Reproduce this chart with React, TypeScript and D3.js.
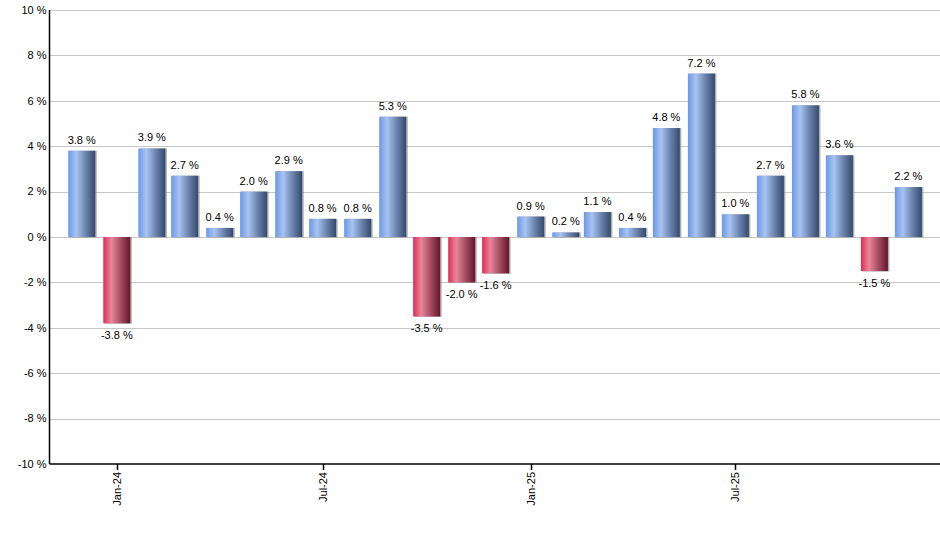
import { useEffect, useRef } from "react";
import * as d3 from "d3";

// monthly returns, Dec-23 .. Dec-25
const months = [
  "2023-12", "2024-01", "2024-02", "2024-03", "2024-04", "2024-05", "2024-06",
  "2024-07", "2024-08", "2024-09", "2024-10", "2024-11", "2024-12",
  "2025-01", "2025-02", "2025-03", "2025-04", "2025-05", "2025-06",
  "2025-07", "2025-08", "2025-09", "2025-10", "2025-11", "2025-12",
];
const returns = [
  3.8, -3.8, 3.9, 2.7, 0.4, 2.0, 2.9, 0.8, 0.8, 5.3, -3.5, -2.0, -1.6,
  0.9, 0.2, 1.1, 0.4, 4.8, 7.2, 1.0, 2.7, 5.8, 3.6, -1.5, 2.2,
];
const xTickMonths = ["2024-01", "2024-07", "2025-01", "2025-07"];
const yTicks = [-10, -8, -6, -4, -2, 0, 2, 4, 6, 8, 10];

const parseMonth = d3.utcParse("%Y-%m");
const FONT = "'Liberation Sans', Arial, sans-serif";

export default function App() {
  const svgRef = useRef<SVGSVGElement>(null);

  useEffect(() => {
    if (!svgRef.current) return;
    const svg = d3.select(svgRef.current);
    svg.selectAll("*").remove();

    const width = 940;
    const height = 550;
    const left = 49.5;
    const right = 940;
    const top = 10;
    const bottom = 464;
    const barW = 27;

    const data = months.map((m, i) => ({ date: parseMonth(m) as Date, value: returns[i] }));

    const x = d3
      .scaleUtc()
      .domain([new Date(Date.UTC(2023, 10, 2, 12)), new Date(Date.UTC(2025, 11, 29))])
      .range([left, right]);
    const y = d3.scaleLinear().domain([-10, 10]).range([bottom, top]);

    svg.attr("width", width).attr("height", height);

    const defs = svg.append("defs");
    const grad = (id: string, stops: [number, string][]) => {
      const g = defs.append("linearGradient").attr("id", id).attr("x1", "0").attr("x2", "1").attr("y1", "0").attr("y2", "0");
      stops.forEach(([o, c]) => g.append("stop").attr("offset", o).attr("stop-color", c));
    };
    grad("blueBar", [
      [0, "#6b98e6"],
      [0.3, "#a9c3f2"],
      [0.65, "#6a83ad"],
      [1, "#34496e"],
    ]);
    grad("redBar", [
      [0, "#de2d55"],
      [0.3, "#e8869a"],
      [0.65, "#a44c62"],
      [1, "#65142a"],
    ]);

    // gridlines
    svg
      .append("g")
      .selectAll("line")
      .data(yTicks.filter((t) => t !== -10))
      .join("line")
      .attr("x1", left)
      .attr("x2", right)
      .attr("y1", (d) => Math.round(y(d)) + 0.5)
      .attr("y2", (d) => Math.round(y(d)) + 0.5)
      .attr("stroke", "#c6c6c6")
      .attr("stroke-width", 1);

    // y labels
    svg
      .append("g")
      .selectAll("text")
      .data(yTicks)
      .join("text")
      .attr("x", left - 3)
      .attr("y", (d) => y(d))
      .attr("dy", "0.35em")
      .attr("text-anchor", "end")
      .attr("font-family", FONT)
      .attr("font-size", "11px")
      .attr("fill", "#000")
      .text((d) => `${d} %`);

    // bars
    const bars = svg.append("g");
    bars
      .selectAll("rect.shadow")
      .data(data)
      .join("rect")
      .attr("class", "shadow")
      .attr("x", (d) => x(d.date) - barW / 2 + 1.5)
      .attr("y", (d) => Math.min(y(d.value), y(0)))
      .attr("width", barW)
      .attr("height", (d) => Math.abs(y(d.value) - y(0)) + 0.5)
      .attr("fill", "#8a8a8a")
      .attr("opacity", 0.7);
    bars
      .selectAll("rect.bar")
      .data(data)
      .join("rect")
      .attr("class", "bar")
      .attr("x", (d) => x(d.date) - barW / 2)
      .attr("y", (d) => Math.min(y(d.value), y(0)))
      .attr("width", barW)
      .attr("height", (d) => Math.abs(y(d.value) - y(0)))
      .attr("fill", (d) => (d.value >= 0 ? "url(#blueBar)" : "url(#redBar)"));

    // value labels
    svg
      .append("g")
      .selectAll("text")
      .data(data)
      .join("text")
      .attr("x", (d) => x(d.date))
      .attr("y", (d) => (d.value >= 0 ? y(d.value) - 7 : y(d.value) + 16))
      .attr("text-anchor", "middle")
      .attr("font-family", FONT)
      .attr("font-size", "11px")
      .attr("fill", "#000")
      .text((d) => `${d.value.toFixed(1)} %`);

    // axes
    svg
      .append("line")
      .attr("x1", left)
      .attr("x2", left)
      .attr("y1", top)
      .attr("y2", bottom)
      .attr("stroke", "#000")
      .attr("stroke-width", 1.5);
    svg
      .append("line")
      .attr("x1", left)
      .attr("x2", right)
      .attr("y1", bottom)
      .attr("y2", bottom)
      .attr("stroke", "#000")
      .attr("stroke-width", 1.5);

    const fmt = d3.utcFormat("%b-%y");
    const xt = svg
      .append("g")
      .selectAll("g")
      .data(xTickMonths.map((m) => parseMonth(m) as Date))
      .join("g")
      .attr("transform", (d) => `translate(${Math.round(x(d)) + 0.5},${bottom})`);
    xt.append("line").attr("y1", 0).attr("y2", 6).attr("stroke", "#000").attr("stroke-width", 1.5);
    xt.append("text")
      .attr("transform", "rotate(-90)")
      .attr("x", -8)
      .attr("y", 0)
      .attr("dy", "0.35em")
      .attr("text-anchor", "end")
      .attr("font-family", FONT)
      .attr("font-size", "11px")
      .attr("fill", "#000")
      .text((d) => fmt(d));
  }, []);

  return (
    <div style={{ position: "fixed", left: 0, top: 0, width: 940, height: 550, background: "#fff" }}>
      <svg ref={svgRef} style={{ display: "block" }} />
    </div>
  );
}
